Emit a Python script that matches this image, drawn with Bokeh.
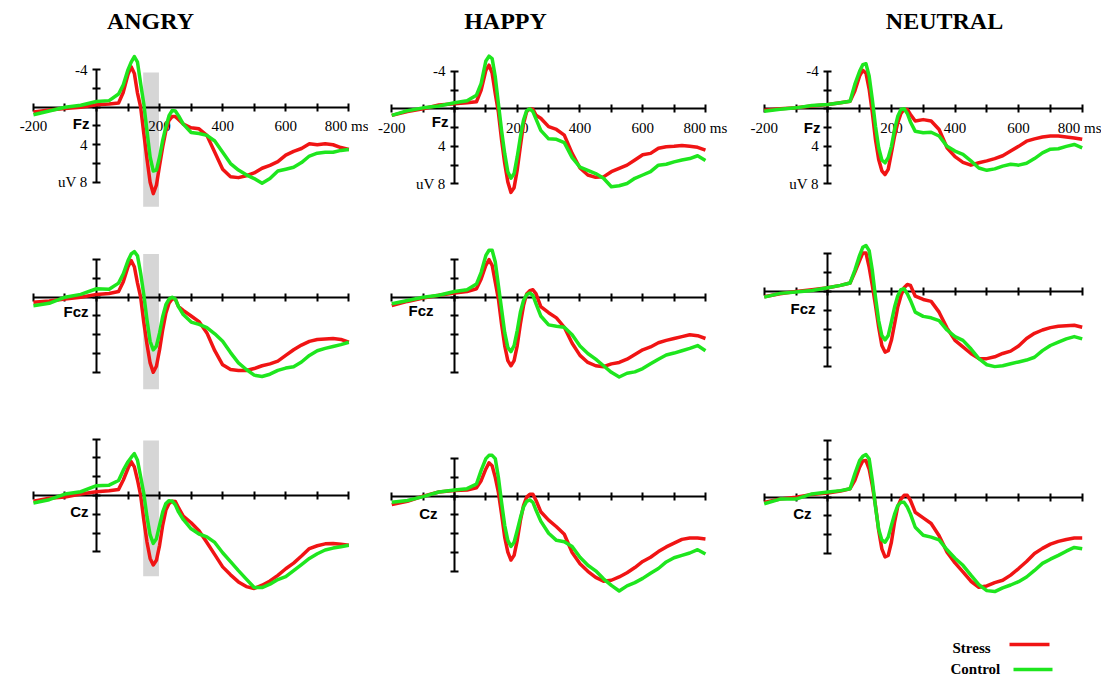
from bokeh.plotting import figure
from bokeh.models import LinearAxis, FixedTicker, Range1d, Label
from bokeh.layouts import row, column
from bokeh.embed import file_html
from bokeh.resources import INLINE

# ---------------- data ----------------
TIME_MS = [-200, -150, -100, -50, 0, 40, 70, 85,
           100, 110, 120, 130, 140, 150, 160, 170, 180, 190, 200, 210, 220, 230, 240, 250, 260,
           275,
           300, 325, 350, 375, 400, 425, 450, 475, 500, 525, 550, 575, 600, 625, 650, 675, 700,
           725, 750, 775, 800]

CONDITIONS = ["ANGRY", "HAPPY", "NEUTRAL"]
CHANNELS = ["Fz", "Fcz", "Cz"]
SERIES = ["Stress", "Control"]

ANGRY_FZ_STRESS = [0.5, 0.3, 0.15, 0.0, -0.25, -0.35, -0.45, -1.6,
                   -3.5, -4.3, -3.6, -1.5, 0.0, 2.8, 5.5, 8.0, 9.2, 8.3, 6.2, 4.2, 2.5, 1.4, 1.0, 1.0, 1.3,
                   1.8,
                   2.2, 2.3, 3.0, 4.8, 6.6, 7.4, 7.5, 7.3, 7.0, 6.5, 6.2, 5.8, 5.1, 4.7, 4.4, 3.9, 4.0,
                   3.9, 4.0, 4.3, 4.5]
ANGRY_FZ_CONTROL = [0.8, 0.4, 0.0, -0.2, -0.6, -0.7, -1.4, -2.4,
                    -4.0, -4.8, -5.4, -4.8, -2.5, -0.35, 2.5, 5.3, 6.8, 6.7, 5.3, 3.5, 2.1, 0.9, 0.35, 0.4, 0.9,
                    1.8,
                    2.7, 2.8, 3.0, 3.6, 4.8, 6.0, 6.7, 7.2, 7.6, 8.1, 7.6, 6.8, 6.6, 6.4, 5.9, 5.2, 4.9,
                    4.8, 4.8, 4.6, 4.5]
HAPPY_FZ_STRESS = [0.7, 0.3, 0.0, -0.4, -0.55, -0.65, -0.75, -2.0,
                   -4.1, -4.65, -3.8, -1.6, 0.4, 3.3, 5.8, 7.8, 8.9, 8.4, 6.5, 4.0, 1.6, 0.3, 0.0, 0.05, 0.7,
                   1.0,
                   1.9, 2.2, 2.8, 4.75, 6.3, 7.05, 7.3, 7.25, 6.7, 6.35, 6.0, 5.45, 4.9, 4.75, 4.2, 4.05, 4.0,
                   3.9, 4.0, 4.1, 4.4]
HAPPY_FZ_CONTROL = [0.7, 0.2, -0.1, -0.3, -0.65, -0.85, -1.45, -2.7,
                    -5.1, -5.6, -5.35, -3.4, -0.55, 2.3, 4.75, 6.7, 7.4, 6.9, 5.1, 3.0, 1.2, 0.2, 0.0, 0.3, 1.1,
                    2.3,
                    3.2, 3.25, 3.6, 5.2, 6.2, 6.55, 6.9, 7.4, 8.3, 8.2, 7.95, 7.4, 7.05, 6.7, 6.0, 5.9, 5.65,
                    5.45, 5.3, 5.0, 5.5]
NEUTRAL_FZ_STRESS = [0.15, 0.0, -0.1, -0.3, -0.45, -0.65, -0.8, -1.9,
                     -3.5, -4.1, -3.8, -2.1, 0.4, 3.3, 5.4, 6.6, 7.0, 6.45, 4.7, 2.9, 1.5, 0.5, 0.07, 0.07, 0.6,
                     1.3,
                     1.15, 1.3, 2.2, 4.15, 5.1, 5.7, 6.0, 5.75, 5.55, 5.3, 5.0, 4.5, 4.0, 3.45, 3.2, 3.0, 2.9,
                     2.9, 3.0, 3.1, 3.25]
NEUTRAL_FZ_CONTROL = [0.25, 0.05, -0.1, -0.35, -0.45, -0.65, -0.8, -2.6,
                      -4.0, -4.7, -4.8, -3.5, -1.0, 1.85, 4.15, 5.45, 5.75, 5.2, 4.0, 2.2, 0.8, 0.07, 0.0, 0.5, 1.4,
                      2.4,
                      2.55, 2.5, 2.9, 4.0, 4.5, 4.85, 5.55, 6.3, 6.55, 6.4, 6.1, 5.9, 6.0, 5.8, 5.3, 4.7, 4.3,
                      4.25, 4.0, 3.8, 4.15]

ANGRY_FCZ_STRESS = [0.55, 0.4, 0.2, 0.0, -0.3, -0.4, -0.6, -1.65,
                    -3.25, -3.9, -3.25, -1.5, 0.0, 2.7, 5.0, 7.0, 8.0, 7.35, 5.6, 3.45, 1.7, 0.65, 0.2, 0.2, 1.0,
                    1.4,
                    2.0, 2.6, 3.8, 5.7, 7.2, 7.7, 7.8, 7.8, 7.6, 7.3, 7.1, 6.8, 6.2, 5.6, 5.1, 4.7, 4.5,
                    4.45, 4.4, 4.5, 4.8]
ANGRY_FCZ_CONTROL = [0.9, 0.65, 0.0, -0.3, -0.9, -0.85, -1.5, -2.5,
                     -3.9, -4.6, -4.85, -4.4, -2.55, -0.25, 2.4, 4.7, 5.6, 5.2, 3.8, 2.05, 0.8, 0.2, 0.0, 0.2, 1.0,
                     1.85,
                     2.65, 2.9, 3.25, 3.9, 4.7, 5.9, 7.0, 7.7, 8.3, 8.45, 8.2, 7.8, 7.55, 7.4, 6.9, 6.2, 5.7,
                     5.45, 5.25, 5.05, 4.8]
HAPPY_FCZ_STRESS = [0.9, 0.45, 0.1, -0.2, -0.45, -0.6, -0.9, -1.95,
                    -3.4, -4.0, -3.4, -1.6, 0.2, 2.85, 5.15, 6.75, 7.3, 6.75, 5.15, 2.85, 0.9, -0.35, -0.7, -0.8, -0.35,
                    1.0,
                    1.65, 2.2, 3.2, 4.9, 6.2, 6.95, 7.3, 7.4, 7.1, 6.95, 6.6, 6.1, 5.6, 5.3, 4.85, 4.6, 4.4,
                    4.2, 4.0, 4.1, 4.4]
HAPPY_FCZ_CONTROL = [0.7, 0.35, 0.0, -0.2, -0.6, -0.8, -1.4, -2.65,
                     -4.45, -5.0, -5.0, -3.75, -1.25, 1.25, 3.75, 5.35, 5.8, 5.15, 3.55, 1.6, 0.35, -0.25, -0.45, -0.2, 0.7,
                     2.0,
                     2.95, 3.1, 3.2, 4.0, 5.2, 6.0, 6.6, 7.3, 8.0, 8.5, 8.1, 7.95, 7.6, 7.1, 6.6, 6.15, 5.95,
                     5.7, 5.45, 5.15, 5.7]
NEUTRAL_FCZ_STRESS = [0.55, 0.25, 0.0, -0.2, -0.4, -0.65, -0.9, -2.05,
                      -3.3, -4.1, -4.1, -2.6, -0.65, 1.5, 3.8, 5.75, 6.45, 6.3, 5.2, 3.45, 1.65, 0.45, -0.4, -0.75, -0.65,
                      0.5,
                      0.85, 1.05, 2.2, 3.9, 5.2, 5.9, 6.6, 7.15, 7.15, 6.95, 6.6, 6.35, 5.8, 5.0, 4.45, 4.1, 3.85,
                      3.7, 3.65, 3.6, 3.8]
NEUTRAL_FCZ_CONTROL = [0.6, 0.2, 0.05, -0.1, -0.4, -0.65, -0.9, -2.25,
                       -3.85, -4.7, -4.9, -4.35, -2.25, 0.6, 3.1, 4.7, 5.15, 4.7, 3.25, 1.65, 0.45, -0.2, -0.3, 0.25, 0.95,
                       2.2,
                       2.65, 2.8, 3.1, 4.1, 4.8, 5.2, 6.1, 7.15, 7.8, 8.0, 7.9, 7.7, 7.5, 7.3, 7.0, 6.3, 5.75,
                       5.4, 5.05, 4.8, 5.05]

ANGRY_CZ_STRESS = [0.6, 0.3, 0.15, -0.15, -0.4, -0.5, -0.65, -1.65,
                   -2.9, -3.6, -3.05, -1.65, 0.0, 2.6, 4.95, 6.7, 7.4, 6.9, 5.3, 3.15, 1.55, 0.85, 0.6, 0.65, 1.3,
                   2.2,
                   2.9, 3.75, 5.0, 6.3, 7.6, 8.45, 9.2, 9.7, 9.9, 9.55, 9.1, 8.5, 7.8, 7.2, 6.45, 5.65, 5.35,
                   5.15, 5.1, 5.2, 5.3]
ANGRY_CZ_CONTROL = [0.8, 0.45, -0.15, -0.4, -1.05, -1.1, -1.6, -2.7,
                    -3.6, -4.05, -4.45, -3.75, -2.0, -0.2, 2.25, 4.2, 5.1, 4.6, 3.15, 1.75, 0.85, 0.55, 0.6, 1.0, 1.75,
                    2.55,
                    3.55, 4.1, 4.4, 5.0, 6.1, 7.05, 8.0, 8.9, 9.8, 9.8, 9.45, 8.95, 8.65, 8.0, 7.35, 6.7, 6.2,
                    5.8, 5.6, 5.45, 5.3]
HAPPY_CZ_STRESS = [0.9, 0.55, 0.0, -0.45, -0.6, -0.65, -0.9, -1.65,
                   -2.9, -3.55, -3.25, -2.0, -0.4, 1.9, 4.35, 5.95, 6.8, 6.3, 4.7, 2.6, 1.0, 0.1, -0.2, -0.2, 0.45,
                   1.65,
                   2.55, 3.25, 4.05, 6.0, 7.2, 8.0, 8.65, 9.05, 8.95, 8.6, 8.15, 7.6, 6.95, 6.5, 5.9, 5.4, 5.0,
                   4.6, 4.45, 4.45, 4.55]
HAPPY_CZ_CONTROL = [0.65, 0.45, 0.05, -0.45, -0.65, -0.8, -1.3, -2.75,
                    -4.0, -4.35, -4.35, -4.0, -2.0, 0.65, 3.1, 4.7, 5.35, 4.9, 3.65, 2.3, 1.15, 0.55, 0.4, 0.65, 1.5,
                    2.65,
                    3.95, 4.7, 4.85, 5.35, 6.5, 7.35, 7.95, 8.8, 9.5, 10.1, 9.55, 9.2, 8.75, 8.2, 7.7, 7.0, 6.55,
                    6.3, 6.05, 5.7, 6.15]
NEUTRAL_CZ_STRESS = [0.55, 0.2, 0.0, -0.3, -0.45, -0.65, -0.9, -1.8,
                     -3.2, -3.85, -3.9, -3.0, -1.25, 0.9, 3.55, 5.5, 6.35, 6.2, 4.8, 2.65, 1.0, 0.2, -0.2, -0.2, 0.35,
                     1.6,
                     2.2, 2.8, 4.1, 5.85, 7.0, 7.95, 8.95, 9.6, 9.45, 9.1, 8.85, 8.3, 7.6, 6.85, 6.0, 5.45, 5.0,
                     4.7, 4.5, 4.35, 4.35]
NEUTRAL_CZ_CONTROL = [0.7, 0.2, 0.2, -0.35, -0.55, -0.7, -0.9, -2.5,
                      -3.9, -4.35, -4.55, -4.1, -1.8, 1.05, 3.4, 4.55, 4.8, 4.25, 3.0, 1.8, 0.9, 0.55, 0.55, 1.05, 1.8,
                      3.2,
                      4.05, 4.25, 4.55, 5.6, 6.5, 7.25, 8.3, 9.3, 9.95, 10.05, 9.65, 9.35, 9.0, 8.5, 7.8, 7.05, 6.6,
                      6.2, 5.75, 5.35, 5.5]

STRESS = {
    ("ANGRY", "Fz"): ANGRY_FZ_STRESS, ("HAPPY", "Fz"): HAPPY_FZ_STRESS, ("NEUTRAL", "Fz"): NEUTRAL_FZ_STRESS,
    ("ANGRY", "Fcz"): ANGRY_FCZ_STRESS, ("HAPPY", "Fcz"): HAPPY_FCZ_STRESS, ("NEUTRAL", "Fcz"): NEUTRAL_FCZ_STRESS,
    ("ANGRY", "Cz"): ANGRY_CZ_STRESS, ("HAPPY", "Cz"): HAPPY_CZ_STRESS, ("NEUTRAL", "Cz"): NEUTRAL_CZ_STRESS,
}
CONTROL = {
    ("ANGRY", "Fz"): ANGRY_FZ_CONTROL, ("HAPPY", "Fz"): HAPPY_FZ_CONTROL, ("NEUTRAL", "Fz"): NEUTRAL_FZ_CONTROL,
    ("ANGRY", "Fcz"): ANGRY_FCZ_CONTROL, ("HAPPY", "Fcz"): HAPPY_FCZ_CONTROL, ("NEUTRAL", "Fcz"): NEUTRAL_FCZ_CONTROL,
    ("ANGRY", "Cz"): ANGRY_CZ_CONTROL, ("HAPPY", "Cz"): HAPPY_CZ_CONTROL, ("NEUTRAL", "Cz"): NEUTRAL_CZ_CONTROL,
}

X_TICKS = [-200, -100, 0, 100, 200, 300, 400, 500, 600, 700, 800]
X_TICK_LABELS = {-200: "-200", 200: "200", 400: "400", 600: "600", 800: "800 ms"}
Y_TICK_LABELS = {-4: "-4", 4: "4", 8: "uV 8"}
# voltage span of each vertical axis (negative up)
Y_AXIS_SPAN = {
    ("ANGRY", "Fz"): (-4, 8), ("HAPPY", "Fz"): (-4, 8), ("NEUTRAL", "Fz"): (-4, 8),
    ("ANGRY", "Fcz"): (-4, 8), ("HAPPY", "Fcz"): (-4, 8), ("NEUTRAL", "Fcz"): (-4, 8),
    ("ANGRY", "Cz"): (-6, 6), ("HAPPY", "Cz"): (-4, 8), ("NEUTRAL", "Cz"): (-6, 6),
}
SHADE_MS = (148, 198)
SHADE_UV = {"Fz": (-3.7, 10.6), "Fcz": (-4.6, 9.8), "Cz": (-5.85, 8.6)}
SHADED_CONDITION = "ANGRY"

# ---------------- layout / style ----------------
RED = "#f01414"
GREEN = "#1ee61e"
SERIF = "Liberation Serif"
SANS = "Liberation Sans"

# page pixel geometry (layout starts at page origin)
COL_LEFT = [0, 368, 735]
COL_W = [368, 367, 366]
ZERO_X = [96.0, 454.0, 827.3]
PX_PER_MS = [0.3154, 0.3137, 0.318]
ROW_TOP = [0, 230, 420]
ROW_H = [230, 190, 255]
ZERO_Y = [[106.7, 108.3, 108.3], [296.7, 296.7, 291.0], [495.0, 495.7, 496.7]]
PX_PER_UV = 9.39

TITLE_PX = [(150, 20), (505, 20), (944, 20)]
CH_LABEL_PX = [[(89, 123), (448, 121), (820, 126.5)],
               [(88, 311), (433, 309.5), (815, 308)],
               [(88, 511), (437, 513), (811, 512.5)]]
LEGEND_TEXT_PX = [(952, 647), (950, 668)]
LEGEND_LINE_PX = [((1009, 1049), 644), ((1013, 1052), 669)]

figs = [[None] * 3 for _ in range(3)]
for r, ch in enumerate(CHANNELS):
    for c, cond in enumerate(CONDITIONS):
        def tx(px, c=c):
            return (px - ZERO_X[c]) / PX_PER_MS[c]

        def vy(py, r=r, c=c):
            return (py - ZERO_Y[r][c]) / PX_PER_UV

        top, h = ROW_TOP[r], ROW_H[r]
        p = figure(width=COL_W[c], height=h,
                   x_range=Range1d(tx(COL_LEFT[c]), tx(COL_LEFT[c] + COL_W[c])),
                   y_range=Range1d(vy(top + h), vy(top)),
                   x_axis_type=None, y_axis_type=None, title=None,
                   toolbar_location=None, output_backend="svg", min_border=0,
                   outline_line_color=None, background_fill_color="white",
                   border_fill_color="white")

        if cond == SHADED_CONDITION:
            lo, hi = SHADE_UV[ch]
            p.quad(left=[SHADE_MS[0]], right=[SHADE_MS[1]], bottom=[hi], top=[lo],
                   fill_color="#d6d6d6", line_color=None, level="underlay")

        ylo, yhi = Y_AXIS_SPAN[(cond, ch)]
        yticks = list(range(ylo, yhi + 1, 2))

        xaxis = LinearAxis(fixed_location=0, ticker=FixedTicker(ticks=X_TICKS, minor_ticks=[]),
                           bounds=(X_TICKS[0], X_TICKS[-1]))
        yaxis = LinearAxis(fixed_location=0, ticker=FixedTicker(ticks=yticks, minor_ticks=[]),
                           bounds=(ylo, yhi))
        for ax in (xaxis, yaxis):
            ax.axis_line_width = 2
            ax.axis_line_color = "black"
            ax.major_tick_line_width = 2
            ax.major_tick_line_color = "black"
            ax.major_tick_in = 4
            ax.major_tick_out = 4
            ax.minor_tick_line_color = None
            ax.major_label_text_font = SERIF
            ax.major_label_text_font_size = "15px"
            ax.major_label_text_color = "black"
        xaxis.major_label_standoff = 7
        yaxis.major_label_standoff = 5
        if r == 0:
            xaxis.major_label_overrides = {t: X_TICK_LABELS.get(t, "") for t in X_TICKS}
            yaxis.major_label_overrides = {t: Y_TICK_LABELS.get(t, "") for t in yticks}
        else:
            xaxis.major_label_overrides = {t: "" for t in X_TICKS}
            yaxis.major_label_overrides = {t: "" for t in yticks}
        p.add_layout(xaxis, "below")
        p.add_layout(yaxis, "left")

        p.line(TIME_MS, STRESS[(cond, ch)], line_color=RED, line_width=3.5,
               line_join="round", level="overlay")
        p.line(TIME_MS, CONTROL[(cond, ch)], line_color=GREEN, line_width=3.5,
               line_join="round", level="overlay")

        lx, ly = CH_LABEL_PX[r][c]
        p.add_layout(Label(x=tx(lx), y=vy(ly), text=ch, text_align="right",
                           text_baseline="middle", text_font=SANS, text_font_style="bold",
                           text_font_size="15px", text_color="black"))
        if r == 0:
            px_, py_ = TITLE_PX[c]
            p.add_layout(Label(x=tx(px_), y=vy(py_), text=cond, text_align="center",
                               text_baseline="middle", text_font=SERIF, text_font_style="bold",
                               text_font_size="24px", text_color="black"))
        if r == 2 and c == 2:
            for name, col, (tpx, tpy), ((x0, x1), ly_) in zip(SERIES, [RED, GREEN],
                                                             LEGEND_TEXT_PX, LEGEND_LINE_PX):
                p.add_layout(Label(x=tx(tpx), y=vy(tpy), text=name, text_align="left",
                                   text_baseline="middle", text_font=SERIF,
                                   text_font_style="bold", text_font_size="15px",
                                   text_color="black"))
                p.line([tx(x0), tx(x1)], [vy(ly_), vy(ly_)], line_color=col, line_width=3.5)
        figs[r][c] = p

layout = row(*[column(*[figs[r][c] for r in range(3)]) for c in range(3)])
open("out.html", "w").write(file_html(layout, INLINE))
